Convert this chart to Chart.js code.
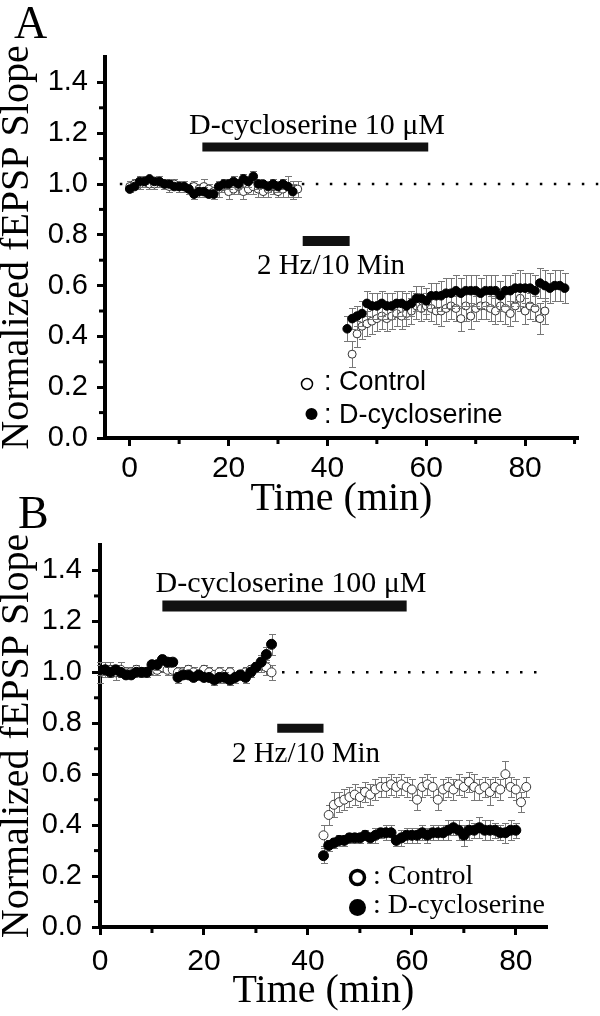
<!DOCTYPE html>
<html><head><meta charset="utf-8">
<script src="https://cdn.jsdelivr.net/npm/chart.js@4.4.1/dist/chart.umd.min.js"></script>
<style>
html,body{margin:0;padding:0;background:#fff;}
#wrap{position:relative;width:600px;height:1016px;background:#fff;}
canvas{position:absolute;left:0;top:0;}
</style></head><body>
<div id="wrap"><canvas id="cA" width="600" height="1016"></canvas><canvas id="cB" width="600" height="1016"></canvas></div>
<script>
// ---------------- DATA ----------------
// Panel A (10 µM)
const aDcsBaseTime = [0,1,2,3,4,5,6,7,8,9,10,11,12,13,14,15,16,17,18,19,20,21,22,23,24,25,26,27,28,29,30,31,32,33];
const aDcsBase = [0.98,0.99,1.01,1.01,1.02,1.01,1.01,1.00,1.00,0.99, 0.99,0.99,0.98,0.96,0.97,0.97,0.96,0.96,0.99,1.00, 1.00,1.01,1.00,1.02,1.01,1.03,1.00,1.00,0.99,1.00, 0.99,1.00,0.99,0.97];
const aDcsBaseErr = [1,1,2,1,1,1,1,1,1,1, 1,1,1,2,2,2,1,2,2,2, 2,2,2,2,2,2,2,1,2,2, 2,2,1,3];
const aDcsPostTime = [44,45,46,47,48,49,50,51,52,53,54,55,56,57,58,59,60,61,62,63,64,65,66,67,68,69,70,71,72,73,74,75,76,77,78,79,80,81,82,83,84,85,86,87,88];
const aDcsPost = [0.43,0.47,0.48,0.49,0.53,0.52,0.52,0.53,0.52,0.52, 0.53,0.53,0.52,0.53,0.55,0.55,0.54,0.56,0.56,0.56, 0.57,0.57,0.58,0.57,0.58,0.58,0.58,0.57,0.58,0.58, 0.58,0.56,0.58,0.58,0.59,0.59,0.59,0.59,0.58,0.61, 0.60,0.59,0.60,0.60,0.59];
const aDcsPostErr = [5,4,4,5,5,5,5,5,5,5, 5,5,5,5,5,5,5,5,5,6, 6,6,6,6,6,6,6,6,6,6, 6,6,6,6,6,7,6,6,6,6, 6,6,6,6,6];
const aCtrlBaseTime = [0,1,2,3,4,5,6,7,8,9,10,11,12,13,14,15,16,17,18,19,20,21,22,23,24,25,26,27,28,29,30,31,32,33,34];
const aCtrlBase = [0.99,1.00,1.00,1.01,1.00,1.00,1.01,1.00,0.99,1.00, 0.99,0.99,0.98,0.99,0.98,0.99,0.98,0.97,0.98,0.99, 0.97,0.98,0.99,0.97,0.98,0.99,0.98,0.97,0.98,0.99, 0.97,0.98,0.99,0.98,0.98];
const aCtrlBaseErr = [2,2,2,2,2,2,2,2,2,2, 2,2,2,2,2,3,2,2,3,2, 3,2,3,3,2,3,3,2,3,3, 2,3,4,3,3];
const aCtrlPostTime = [45,46,47,48,49,50,51,52,53,54,55,56,57,58,59,60,61,62,63,64,65,66,67,68,69,70,71,72,73,74,75,76,77,78,79,80,81,82,83,84];
const aCtrlPost = [0.33,0.41,0.44,0.45,0.46,0.47,0.48,0.47,0.48,0.49, 0.48,0.49,0.50,0.52,0.51,0.52,0.51,0.50,0.50,0.51, 0.52,0.51,0.47,0.52,0.48,0.51,0.52,0.52,0.51,0.50, 0.52,0.51,0.49,0.52,0.55,0.50,0.52,0.51,0.47,0.50];
const aCtrlPostErr = [5,5,5,5,5,5,5,5,5,5, 5,5,5,5,5,5,5,5,6,5, 5,5,5,6,5,5,5,5,5,5, 6,6,5,6,5,5,5,5,6,5];
const aDrugBar = [14.7, 60.4];   const aDrugLevel = 1.146;
const aStimBar = [35, 44.5];     const aStimLevel = 0.776;
const aRefLine = [-2, 94.8];

// Panel B (100 µM)
const bBaseTime = [0,1,2,3,4,5,6,7,8,9,10,11,12,13,14,15,16,17,18,19,20,21,22,23,24,25,26,27,28,29,30,31,32,33];
const bDcsBase = [1.01,1.01,1.00,1.01,1.00,0.99,0.99,1.00,1.00,1.00, 1.03,1.03,1.05,1.04,1.04,0.98,0.99,0.99,0.98,0.99, 0.98,0.98,0.97,0.98,0.98,0.97,0.98,0.99,0.98,1.00, 1.02,1.04,1.07,1.11];
const bDcsBaseErr = [2,2,1,1,1,1,1,1,1,1, 1,2,2,2,1,2,1,1,1,1, 1,1,2,2,2,2,1,2,2,2, 2,3,3,4];
const bCtrlBase = [1.00,1.01,1.01,1.00,1.01,1.00,1.00,1.01,1.00,1.00, 1.01,1.01,1.02,1.01,1.01,1.00,1.00,1.01,1.00,0.99, 1.01,1.00,0.99,1.00,0.99,1.00,0.98,0.99,1.00,1.01, 1.02,1.03,1.02,1.00];
const bCtrlBaseErr = [4,3,3,3,3,2,2,2,2,2, 2,2,2,2,2,2,2,2,2,2, 2,2,2,2,2,2,2,2,2,2, 2,3,3,3];
const bDcsPostTime = [43,44,45,46,47,48,49,50,51,52,53,54,55,56,57,58,59,60,61,62,63,64,65,66,67,68,69,70,71,72,73,74,75,76,77,78,79,80];
const bDcsPost = [0.28,0.32,0.33,0.34,0.34,0.35,0.35,0.35,0.36,0.35, 0.36,0.37,0.37,0.37,0.34,0.35,0.36,0.36,0.36,0.37, 0.36,0.37,0.37,0.37,0.38,0.39,0.38,0.36,0.38,0.38, 0.39,0.38,0.38,0.38,0.37,0.37,0.38,0.38];
const bDcsPostErr = [3,2,2,2,2,2,2,2,2,2, 3,2,3,3,2,3,3,3,3,3, 3,3,3,3,4,3,4,4,4,3, 4,4,4,3,3,4,4,3];
const bCtrlPostTime = [43,44,45,46,47,48,49,50,51,52,53,54,55,56,57,58,59,60,61,62,63,64,65,66,67,68,69,70,71,72,73,74,75,76,77,78,79,80,81,82];
const bCtrlPost = [0.36,0.44,0.48,0.49,0.50,0.51,0.52,0.51,0.53,0.52, 0.54,0.55,0.55,0.56,0.55,0.56,0.55,0.54,0.50,0.55, 0.56,0.55,0.50,0.54,0.55,0.54,0.56,0.55,0.57,0.55, 0.54,0.55,0.53,0.55,0.54,0.60,0.55,0.54,0.49,0.55];
const bCtrlPostErr = [4,4,5,4,4,4,4,4,4,4, 4,4,4,4,4,4,4,4,4,4, 4,4,4,4,4,4,4,4,4,5, 4,4,5,4,4,5,4,4,4,4];
const bDrugBar = [12, 59];   const bDrugLevel = 1.26;
const bStimBar = [34.1, 43]; const bStimLevel = 0.78;
const bRefLine = [0, 84.4];

const xTickStep = 20, yTickStep = 0.2;
const aMinorX = [10,30,50,70,90], bMinorX = [10,30,50,70];
const minorY = [0.1,0.3,0.5,0.7,0.9,1.1,1.3];

// ---------------- HELPERS ----------------
const SANS = "'Liberation Sans', Arial, sans-serif";
const SERIF = "'Liberation Serif', 'Times New Roman', serif";
function pts(times, vals){ return times.map((t,i)=>({x:t, y:vals[i]})); }
function errs(list){ return list.map(e=>e/100); }

const errorBarPlugin = {
  id:'errbars',
  beforeDatasetDraw(chart, args){
    const ds = chart.data.datasets[args.index];
    if (!ds.errors) return;
    const xs = chart.scales.x, ys = chart.scales.y, ctx = chart.ctx;
    const cap = ds.errCap || 3;
    ctx.save();
    ctx.strokeStyle = ds.errColor || '#666';
    ctx.lineWidth = 1;
    ds.data.forEach((p,i)=>{
      const e = ds.errors[i]; if (e == null) return;
      const px = Math.round(xs.getPixelForValue(p.x)) + 0.5;
      const y1 = Math.round(ys.getPixelForValue(p.y + e)) + 0.5;
      const y2 = Math.round(ys.getPixelForValue(p.y - e)) + 0.5;
      ctx.beginPath();
      ctx.moveTo(px, y1); ctx.lineTo(px, y2);
      ctx.moveTo(px-cap, y1); ctx.lineTo(px+cap, y1);
      ctx.moveTo(px-cap, y2); ctx.lineTo(px+cap, y2);
      ctx.stroke();
    });
    ctx.restore();
  }
};

const decorPlugin = {
  id:'decor',
  afterDraw(chart, args, o){
    const {ctx, chartArea:ca, scales:{x, y}} = chart;
    ctx.save();
    ctx.strokeStyle = '#000'; ctx.lineWidth = 3;
    (o.minorX||[]).forEach(v=>{ const px=x.getPixelForValue(v); ctx.beginPath(); ctx.moveTo(px, ca.bottom+2); ctx.lineTo(px, ca.bottom+6); ctx.stroke(); });
    (o.minorY||[]).forEach(v=>{ const py=y.getPixelForValue(v); ctx.beginPath(); ctx.moveTo(ca.left-2, py); ctx.lineTo(ca.left-6, py); ctx.stroke(); });
    ctx.fillStyle = '#000';
    (o.texts||[]).forEach(t=>{
      ctx.font = t.font; ctx.textAlign = t.align || 'left'; ctx.textBaseline = 'alphabetic';
      ctx.fillText(t.text, t.x, t.y);
    });
    (o.markers||[]).forEach(m=>{
      ctx.beginPath(); ctx.arc(m.x, m.y, m.r, 0, Math.PI*2);
      if (m.fill){ ctx.fillStyle='#000'; ctx.fill(); }
      else { ctx.fillStyle='#fff'; ctx.fill(); ctx.lineWidth=m.lw; ctx.strokeStyle='#000'; ctx.stroke(); }
    });
    ctx.restore();
  }
};

function makePanel(id, P){
  const datasets = [
    {label:'baseline', data:[{x:P.ref[0],y:1},{x:P.ref[1],y:1}], showLine:true, borderColor:'#000', borderWidth:2.5, borderDash:[2.5,11.5], pointRadius:0, clip:false, order:5},
    {label:'drug', data:[{x:P.drug[0],y:P.drugLevel},{x:P.drug[1],y:P.drugLevel}], showLine:true, borderColor:'#111', borderWidth:P.drugW, borderCapStyle:'butt', pointRadius:0, clip:false, order:4},
    {label:'stim', data:[{x:P.stim[0],y:P.stimLevel},{x:P.stim[1],y:P.stimLevel}], showLine:true, borderColor:'#111', borderWidth:P.stimW, borderCapStyle:'butt', pointRadius:0, clip:false, order:3},
    {label:'Control', data:P.ctrl, errors:P.ctrlErr, errColor:'#777', errCap:3.5, showLine:false, pointRadius:P.ctrlR, pointBackgroundColor:'#fff', pointBorderColor:'#333', pointBorderWidth:1, order:1},
    {label:'D-cycloserine', data:P.dcs, errors:P.dcsErr, errColor:'#777', errCap:3.5, showLine:false, pointRadius:P.dcsR, pointBackgroundColor:'#000', pointBorderColor:'#000', pointBorderWidth:1, order:0}
  ];
  return new Chart(document.getElementById(id), {
    type:'scatter',
    data:{datasets},
    plugins:[errorBarPlugin, decorPlugin],
    options:{
      responsive:false, animation:false, devicePixelRatio:1, events:[],
      layout:{padding:P.padding},
      plugins:{legend:{display:false}, tooltip:{enabled:false}, decor:P.decor},
      scales:{
        x:{type:'linear', min:P.xMin, max:P.xMax,
          afterFit:s=>{ s.height = P.xH; },
          border:{display:true, color:'#000', width:4},
          grid:{display:true, drawOnChartArea:false, drawTicks:true, tickLength:8, tickWidth:3, tickColor:'#000'},
          ticks:{stepSize:xTickStep, includeBounds:false, autoSkip:false, maxRotation:0, padding:P.xPad, color:'#000', font:{family:SANS, size:30}, callback:v=>String(v)},
          title:{display:true, text:'Time (min)', color:'#000', font:{family:SERIF, size:40, lineHeight:1}, padding:{top:0, bottom:P.xTitlePad}}
        },
        y:{type:'linear', min:0, max:1.5,
          afterFit:s=>{ s.width = P.yW; },
          border:{display:true, color:'#000', width:4},
          grid:{display:true, drawOnChartArea:false, drawTicks:true, tickLength:8, tickWidth:3, tickColor:'#000'},
          ticks:{stepSize:yTickStep, includeBounds:false, padding:P.yPad, color:'#000', font:{family:SANS, size:29}, callback:v=>v.toFixed(1)},
          title:{display:true, text:'Normalized fEPSP Slope', color:'#000', font:{family:SERIF, size:40, lineHeight:0.85}, padding:{top:0, bottom:0}}
        }
      }
    }
  });
}

makePanel('cA', {
  xMin:-5, xMax:90.7, xH:79, yW:105, xPad:5, yPad:9, xTitlePad:-2,
  padding:{top:57, right:22, bottom:499, left:0},
  ref:aRefLine, drug:aDrugBar, drugLevel:aDrugLevel, drugW:9, stim:aStimBar, stimLevel:aStimLevel, stimW:10,
  ctrl:pts(aCtrlBaseTime,aCtrlBase).concat(pts(aCtrlPostTime,aCtrlPost)),
  ctrlErr:errs(aCtrlBaseErr).concat(errs(aCtrlPostErr)),
  dcs:pts(aDcsBaseTime,aDcsBase).concat(pts(aDcsPostTime,aDcsPost)),
  dcsErr:errs(aDcsBaseErr).concat(errs(aDcsPostErr)),
  ctrlR:4, dcsR:4.3,
  decor:{minorX:aMinorX, minorY:minorY,
    texts:[
      {text:'A', x:14, y:38, font:'46px '+SERIF},
      {text:'D-cycloserine 10 μM', x:317, y:134, font:'30px '+SERIF, align:'center'},
      {text:'2 Hz/10 Min', x:331, y:274, font:'29px '+SERIF, align:'center'},
      {text:': Control', x:324, y:390, font:'27px '+SANS},
      {text:': D-cycloserine', x:324, y:423, font:'27px '+SANS}
    ],
    markers:[{x:307,y:384,r:5.5,lw:1.5,fill:false},{x:311.5,y:414,r:6,fill:true}]
  }
});

makePanel('cB', {
  xMin:0, xMax:86, xH:89, yW:100, xPad:9, yPad:10, xTitlePad:5,
  padding:{top:545, right:53, bottom:0, left:0},
  ref:bRefLine, drug:bDrugBar, drugLevel:bDrugLevel, drugW:11, stim:bStimBar, stimLevel:bStimLevel, stimW:9,
  ctrl:pts(bBaseTime,bCtrlBase).concat(pts(bCtrlPostTime,bCtrlPost)),
  ctrlErr:errs(bCtrlBaseErr).concat(errs(bCtrlPostErr)),
  dcs:pts(bBaseTime,bDcsBase).concat(pts(bDcsPostTime,bDcsPost)),
  dcsErr:errs(bDcsBaseErr).concat(errs(bDcsPostErr)),
  ctrlR:4.5, dcsR:5,
  decor:{minorX:bMinorX, minorY:minorY,
    texts:[
      {text:'B', x:18, y:528, font:'46px '+SERIF},
      {text:'D-cycloserine 100 μM', x:291, y:592, font:'30px '+SERIF, align:'center'},
      {text:'2 Hz/10 Min', x:306, y:762, font:'29px '+SERIF, align:'center'},
      {text:': Control', x:373, y:884, font:'28px '+SERIF},
      {text:': D-cycloserine', x:373, y:913, font:'28px '+SERIF}
    ],
    markers:[{x:357.5,y:877.5,r:7,lw:3.5,fill:false},{x:357.5,y:907.5,r:8.5,fill:true}]
  }
});
</script>
</body></html>
